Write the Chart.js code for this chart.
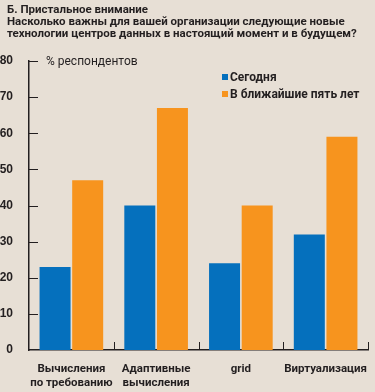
<!DOCTYPE html>
<html>
<head>
<meta charset="utf-8">
<script src="https://cdn.jsdelivr.net/npm/chart.js@4.4.0/dist/chart.umd.min.js"></script>
<style>
  html, body { margin: 0; padding: 0; background: #e7dfd5; }
  #wrap { position: relative; width: 375px; height: 392px; overflow: hidden; }
  #chart { position: absolute; left: 0; top: 0; }
  .title {
    position: absolute; left: 7px; top: 3px; white-space: nowrap;
    font: bold 11.5px Roboto, sans-serif;
    line-height: 12px; color: #231f20;
  }
  .legend {
    position: absolute; left: 222px; top: 70px; white-space: nowrap;
    font: bold 12px Roboto, sans-serif;
    color: #231f20;
  }
  .legend div { height: 17px; line-height: 14px; }
  .legend span.sw { display: inline-block; width: 6px; height: 6px; margin-right: 2px; vertical-align: 1px; }
  .unit {
    position: absolute; left: 46px; top: 54px; white-space: nowrap;
    font: 12px Roboto, sans-serif;
    color: #231f20;
  }
</style>
</head>
<body>
<div id="wrap">
  <canvas id="chart" width="375" height="392"></canvas>
  <div class="title">Б. Пристальное внимание<br>Насколько важны для вашей организации следующие новые<br>технологии центров данных в настоящий момент и в будущем?</div>
  <div class="unit">% респондентов</div>
  <div class="legend" id="legend"></div>
</div>
<script>
const categories = [
  ['Вычисления', 'по требованию'],
  ['Адаптивные', 'вычисления'],
  'grid',
  'Виртуализация'
];
const seriesNames = ['Сегодня', 'В ближайшие пять лет'];
const today = [23, 40, 24, 32];
const fiveYears = [47, 67, 40, 59];
const yTicks = [0, 10, 20, 30, 40, 50, 60, 70, 80];

const colors = ['#0570bd', '#f7941e'];
const ink = '#231f20';

// legend as html
const legendEl = document.getElementById('legend');
seriesNames.forEach((name, i) => {
  const row = document.createElement('div');
  row.innerHTML = '<span class="sw" style="background:' + colors[i] + '"></span>' + name;
  legendEl.appendChild(row);
});

// short ticks: y ticks inside the plot, category separators pointing up
const axisTicks = {
  id: 'axisTicks',
  afterDraw(chart) {
    const ctx = chart.ctx;
    const x = chart.scales.x, y = chart.scales.y;
    const area = chart.chartArea;
    ctx.save();
    ctx.strokeStyle = ink;
    ctx.lineWidth = 1;
    ctx.beginPath();
    yTicks.forEach(v => {
      if (v === 0) return;
      const py = Math.round(y.getPixelForValue(v)) + 0.5;
      ctx.moveTo(area.left, py);
      ctx.lineTo(area.left + 9, py);
    });
    const step = x.getPixelForValue(1) - x.getPixelForValue(0);
    for (let i = 0; i < categories.length; i++) {
      const px = Math.round(x.getPixelForValue(i) + step / 2) + 0.5;
      ctx.moveTo(px, area.bottom);
      ctx.lineTo(px, area.bottom - 8);
    }
    ctx.stroke();
    ctx.restore();
  }
};

new Chart(document.getElementById('chart'), {
  type: 'bar',
  data: {
    labels: categories,
    datasets: [
      { label: seriesNames[0], data: today, backgroundColor: colors[0] },
      { label: seriesNames[1], data: fiveYears, backgroundColor: colors[1] }
    ]
  },
  options: {
    responsive: false,
    animation: false,
    events: [],
    layout: { padding: { top: 61, right: 7, left: 0, bottom: 0 } },
    datasets: { bar: { categoryPercentage: 0.77, barPercentage: 0.95 } },
    plugins: { legend: { display: false }, tooltip: { enabled: false } },
    scales: {
      x: {
        grid: { display: false },
        border: { display: true, color: ink, width: 1.5 },
        ticks: { color: ink, font: { family: 'Roboto', size: 11.5, weight: 'bold', lineHeight: 1.15 }, padding: 5, maxRotation: 0, autoSkip: false },
        afterFit(s) { s.height = 42; }
      },
      y: {
        min: 0, max: 80,
        afterBuildTicks(s) { s.ticks = yTicks.map(v => ({ value: v })); },
        grid: { display: false },
        border: { display: true, color: ink, width: 1.5 },
        ticks: { color: ink, font: { family: "'Liberation Sans', Arial, sans-serif", size: 12, weight: 'bold' }, padding: 8 },
        afterFit(s) { s.width = 29; }
      }
    }
  },
  plugins: [axisTicks]
});
</script>
</body>
</html>
